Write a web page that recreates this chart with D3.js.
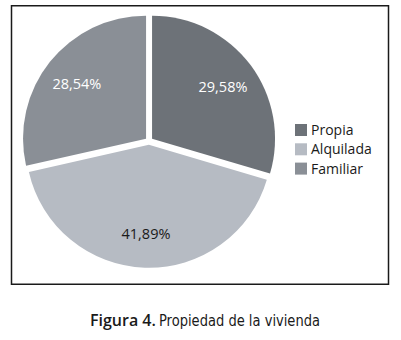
<!DOCTYPE html>
<html lang="es">
<head>
<meta charset="UTF-8">
<title>Propiedad de la vivienda</title>
<script src="https://d3js.org/d3.v7.min.js"></script>
<style>
  body { margin: 0; background: #fff; }
  svg { display: block; }
</style>
</head>
<body>
<svg width="401" height="340"></svg>
<script>
    // datos
    var categories = ["Propia", "Alquilada", "Familiar"];
    var values = [29.58, 41.89, 28.54];
    var caption = ["Figura 4.", "Propiedad de la vivienda"];

    var svg = d3.select("svg");

    var color = d3.scaleOrdinal()
        .domain(categories)
        .range(["#6d7278", "#b6bbc3", "#8a8f96"]);
    var labelColor = d3.scaleOrdinal()
        .domain(categories)
        .range(["#ffffff", "#1a1a1a", "#ffffff"]);

    var es = d3.formatLocale({decimal: ",", thousands: ".", grouping: [3], currency: ["", "€"]});
    var fmt = es.format(".2f");

    // marco
    svg.append("rect")
        .attr("x", 11.5).attr("y", 5.75)
        .attr("width", 377).attr("height", 278.5)
        .attr("fill", "none")
        .attr("stroke", "#1a1a1a")
        .attr("stroke-width", 1.5);

    var cx = 149, cy = 141, radius = 123, explode = 3.8;

    var pie = d3.pie().sort(null).value(function (d) { return d.value; });
    var arc = d3.arc().innerRadius(0).outerRadius(radius);
    var labelArc = d3.arc().innerRadius(radius * 0.72).outerRadius(radius * 0.72);

    var data = categories.map(function (c, i) { return {cat: c, value: values[i]}; });

    var plot = svg.append("g").attr("transform", "translate(" + cx + "," + cy + ")");

    var slices = plot.selectAll("g.slice")
        .data(pie(data))
        .enter()
        .append("g")
        .attr("class", "slice")
        .attr("transform", function (d) {
            var mid = (d.startAngle + d.endAngle) / 2;
            return "translate(" + (Math.sin(mid) * explode) + "," + (-Math.cos(mid) * explode) + ")";
        });

    slices.append("path")
        .attr("d", arc)
        .attr("fill", function (d) { return color(d.data.cat); });

    slices.append("text")
        .attr("transform", function (d) { return "translate(" + labelArc.centroid(d) + ")"; })
        .attr("text-anchor", "middle")
        .attr("dy", "0.4em")
        .attr("font-family", "'Open Sans', sans-serif")
        .attr("font-size", 14.5)
        .attr("fill", function (d) { return labelColor(d.data.cat); })
        .text(function (d) { return fmt(d.data.value) + "%"; });

    // leyenda
    var legend = svg.append("g").attr("transform", "translate(295,124)");
    var rows = legend.selectAll("g")
        .data(categories)
        .enter()
        .append("g")
        .attr("transform", function (d, i) { return "translate(0," + (i * 19.3) + ")"; });
    rows.append("rect")
        .attr("width", 12).attr("height", 12)
        .attr("fill", function (d) { return color(d); });
    rows.append("text")
        .attr("x", 16)
        .attr("y", 11)
        .attr("font-family", "'Open Sans', sans-serif")
        .attr("font-size", 14)
        .attr("fill", "#1a1a1a")
        .text(function (d) { return d; });

    // pie de figura
    svg.append("text")
        .attr("x", 90).attr("y", 326)
        .attr("font-family", "'Open Sans', sans-serif")
        .attr("font-weight", 600)
        .attr("font-size", 16)
        .attr("fill", "#1a1a1a")
        .text(caption[0]);
    svg.append("text")
        .attr("x", 159).attr("y", 326)
        .attr("font-family", "'Liberation Sans Narrow', 'DejaVu Sans Condensed', sans-serif")
        .attr("font-size", 16.5)
        .attr("fill", "#1a1a1a")
        .attr("textLength", 161)
        .attr("lengthAdjust", "spacingAndGlyphs")
        .text(caption[1]);
</script>
</body>
</html>
